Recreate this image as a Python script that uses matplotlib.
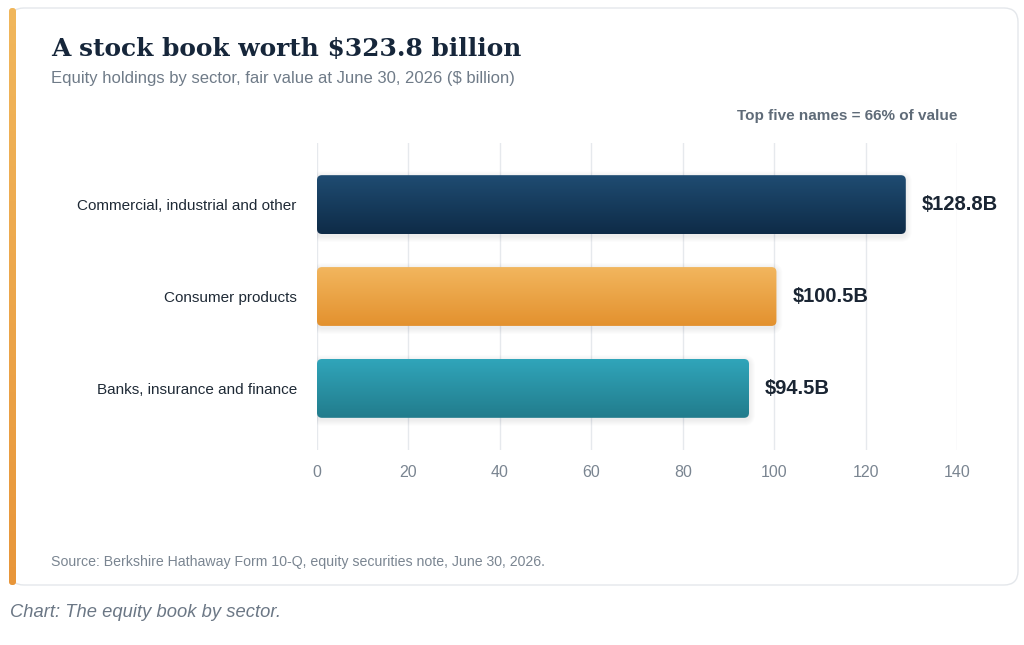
import numpy as np
import matplotlib
matplotlib.use("Agg")
import matplotlib.pyplot as plt
from matplotlib.patches import FancyBboxPatch
from matplotlib.colors import LinearSegmentedColormap

# ---------------- data ----------------
categories = ["Commercial, industrial and other", "Consumer products", "Banks, insurance and finance"]
values = [128.8, 100.5, 94.5]
value_labels = ["$128.8B", "$100.5B", "$94.5B"]
x_ticks = [0, 20, 40, 60, 80, 100, 120, 140]
title = "A stock book worth $323.8 billion"
subtitle = "Equity holdings by sector, fair value at June 30, 2026 ($ billion)"
note = "Top five names = 66% of value"
source = "Source: Berkshire Hathaway Form 10-Q, equity securities note, June 30, 2026."
caption = "Chart: The equity book by sector."

bar_grads = [("#1f4c72", "#0e2b47"), ("#f2b65e", "#e3912e"), ("#30a5ba", "#227c8c")]

W, H = 1024, 645
fig = plt.figure(figsize=(W / 100, H / 100), dpi=100)
fig.patch.set_facecolor("white")

# background axes in pixel coordinates
bg = fig.add_axes([0, 0, 1, 1])
bg.set_xlim(0, W)
bg.set_ylim(H, 0)
bg.axis("off")

card = FancyBboxPatch((10, 8), 1008, 577, boxstyle="round,pad=0,rounding_size=14",
                      facecolor="white", edgecolor="#e4e7eb", linewidth=1.0, zorder=1)
bg.add_patch(card)

# left accent bar with gradient
acc = FancyBboxPatch((9, 8), 7, 577, boxstyle="round,pad=0,rounding_size=3",
                     facecolor="none", edgecolor="none", zorder=2)
bg.add_patch(acc)
acc_cmap = LinearSegmentedColormap.from_list("acc", ["#f1b75c", "#e8963a"])
im = bg.imshow(np.linspace(0, 1, 256).reshape(-1, 1), cmap=acc_cmap, aspect="auto",
               extent=(9, 16, 585, 8), zorder=2)
im.set_clip_path(acc)
bg.set_xlim(0, W)
bg.set_ylim(H, 0)

bg.text(51, 56, title, fontsize=17.9, fontweight="bold", family="DejaVu Serif",
        color="#16263a", va="baseline", ha="left", zorder=3)
bg.text(51, 83, subtitle, fontsize=12, family="Liberation Sans",
        color="#6f7b88", va="baseline", ha="left", zorder=3)
bg.text(957, 120, note, fontsize=11, fontweight="bold", family="Liberation Sans",
        color="#5f6b78", va="baseline", ha="right", zorder=3)
bg.text(51, 566, source, fontsize=10.2, family="Liberation Sans",
        color="#7a8591", va="baseline", ha="left", zorder=3)
bg.text(10, 617, caption, fontsize=13.2, style="italic", family="Liberation Sans",
        color="#6b7785", va="baseline", ha="left", zorder=3)

# main axes
L, R, T, B = 317, 957, 143, 450
ax = fig.add_axes([L / W, (H - B) / H, (R - L) / W, (B - T) / H])
ax.set_facecolor("none")
ypos = np.arange(len(categories))
bars = ax.barh(ypos, values, height=0.64, color="none")
ax.set_xlim(0, 140)
ax.set_ylim(2.67, -0.67)
ax.set_xticks(x_ticks)
ax.set_xticklabels([str(t) for t in x_ticks])
ax.set_yticks(ypos)
ax.set_yticklabels(categories)
ax.tick_params(axis="both", length=0)
ax.tick_params(axis="x", pad=11, labelsize=11.5, labelcolor="#7a8591")
ax.tick_params(axis="y", pad=14.5, labelsize=11, labelcolor="#1f2a36")
for lab in ax.get_xticklabels() + ax.get_yticklabels():
    lab.set_family("Liberation Sans")
for s in ax.spines.values():
    s.set_visible(False)
ax.grid(axis="x", color="#e6e9ed", linewidth=1)
ax.set_axisbelow(True)

px_x = (R - L) / 140.0
px_y = (B - T) / (2.67 + 0.67)
rad_px = 5
r_x = rad_px / px_x
aspect = px_x / px_y

for i, rect in enumerate(bars):
    rect.set_visible(False)
    x0, y0 = rect.get_x(), rect.get_y()
    w, h = rect.get_width(), rect.get_height()
    # soft diffuse shadow
    for k in range(1, 7):
        sh = FancyBboxPatch((x0 - k / px_x, y0 + 2 / px_y - k / px_y),
                            w + 2 * k / px_x, h + 2 * k / px_y,
                            boxstyle=f"round,pad=0,rounding_size={r_x + k / px_x}",
                            mutation_aspect=aspect, facecolor="#1a2a3a", edgecolor="none",
                            alpha=0.012, zorder=2)
        ax.add_patch(sh)
    p = FancyBboxPatch((x0, y0), w, h, boxstyle=f"round,pad=0,rounding_size={r_x}",
                       mutation_aspect=aspect, facecolor="none", edgecolor="none", zorder=3)
    ax.add_patch(p)
    cm = LinearSegmentedColormap.from_list(f"g{i}", list(bar_grads[i]))
    gi = ax.imshow(np.linspace(0, 1, 256).reshape(-1, 1), cmap=cm, aspect="auto",
                   extent=(x0, x0 + w, y0 + h, y0), zorder=3, interpolation="bilinear")
    gi.set_clip_path(p)
    ax.text(values[i] + 16 / px_x, ypos[i], value_labels[i], fontsize=14.5, fontweight="bold",
            family="Liberation Sans", color="#1a2533", va="center", ha="left", clip_on=False, zorder=4)

ax.set_xlim(0, 140)
ax.set_ylim(2.67, -0.67)

fig.savefig("out.png", dpi=100, facecolor="white")
